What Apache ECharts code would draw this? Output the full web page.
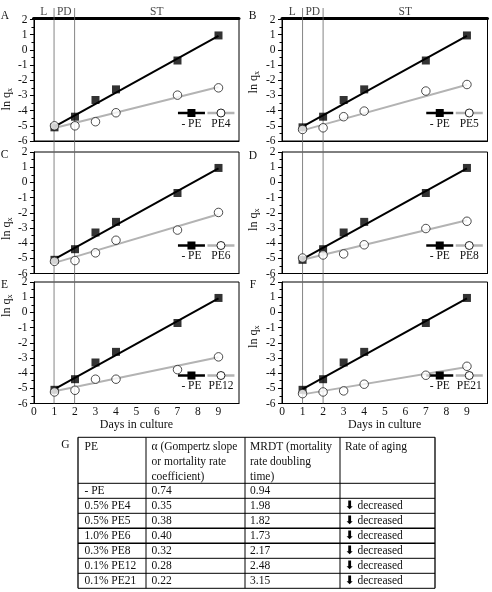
<!DOCTYPE html>
<html><head><meta charset="utf-8">
<script src="https://cdn.jsdelivr.net/npm/echarts@6/dist/echarts.min.js"></script>
<style>html,body{margin:0;padding:0;background:#fff}#c{width:492px;height:592px}</style>
</head><body><div id="c"></div>
<script>
// ---------- data ----------
const days = [1, 2, 3, 4, 7, 9];
const fitDays = [1, 9];
const controlValues = [-5.1, -4.4, -3.3, -2.6, -0.7, 0.95];
const controlFit = [-5.05, 0.93];
const pe4Values = [-5.0, -5.0, -4.73, -4.14, -2.98, -2.5];
const pe4Fit = [-5.15, -2.45];
const pe5Values = [-5.24, -5.13, -4.4, -4.03, -2.71, -2.28];
const pe5Fit = [-5.3, -2.3];
const pe6Values = [-5.2, -5.15, -4.64, -3.81, -3.14, -1.98];
const pe6Fit = [-5.3, -2.1];
const pe8Values = [-4.98, -4.78, -4.71, -4.11, -3.04, -2.56];
const pe8Fit = [-5.1, -2.5];
const pe12Values = [-5.24, -5.13, -4.4, -4.4, -3.77, -2.93];
const pe12Fit = [-5.2, -2.95];
const pe21Values = [-5.35, -5.24, -5.17, -4.73, -4.14, -3.55];
const pe21Fit = [-5.4, -3.6];

const panelLetters = ['A', 'B', 'C', 'D', 'E', 'F'];
const panelPE = ['PE4', 'PE5', 'PE6', 'PE8', 'PE12', 'PE21'];
const panelValues = [pe4Values, pe5Values, pe6Values, pe8Values, pe12Values, pe21Values];
const panelFits = [pe4Fit, pe5Fit, pe6Fit, pe8Fit, pe12Fit, pe21Fit];

const xTickLabels = ['0', '1', '2', '3', '4', '5', '6', '7', '8', '9'];
const yTickLabels = ['-6', '-5', '-4', '-3', '-2', '-1', '0', '1', '2'];
const phaseNames = ['L', 'PD', 'ST'];
const phaseStart = [0, 1, 2];
const phaseEnd = [1, 2, 10];
const phaseBounds = [1, 2];

const tableHeader = [
  ['PE'],
  ['\u03b1 (Gompertz slope', 'or mortality rate', 'coefficient)'],
  ['MRDT (mortality', 'rate doubling', 'time)'],
  ['Rate of aging']
];
const tablePE = ['- PE', '0.5% PE4', '0.5% PE5', '1.0% PE6', '0.3% PE8', '0.1% PE12', '0.1% PE21'];
const tableAlpha = ['0.74', '0.35', '0.38', '0.40', '0.32', '0.28', '0.22'];
const tableMRDT = ['0.94', '1.98', '1.82', '1.73', '2.17', '2.48', '3.15'];
const tableAging = ['', 'decreased', 'decreased', 'decreased', 'decreased', 'decreased', 'decreased'];

// ---------- layout ----------
const FF = '"Liberation Serif", "DejaVu Serif", serif';
const TXT = '#111';
const colLeft = [33.5, 282];
const colWidth = [205.5, 205.5];
const rowTop = [19.5, 152, 282];
const rowHeight = 121.5;
const nameShift = [19, 2, 16, 7, -37, -6];
const nameGaps = [18, 21];
const legendLeft = [176.7, 425];
const letterPos = [[5, 16], [252.5, 16], [4.5, 155], [253, 155.5], [4.5, 285], [253, 285]];
const overlayTop = 8;
const overlayBottom = rowTop[2] + rowHeight;

const tableCols = [78, 146, 245, 340, 435];
const tableTop = 437.3;
const headerBottom = 483.3;
const rowH = 15;

const grid = [], xAxis = [], yAxis = [], series = [], legend = [];

for (let i = 0; i < 6; i++) {
  const col = i % 2, row = Math.floor(i / 2);
  grid.push({left: colLeft[col], top: rowTop[row], width: colWidth[col], height: rowHeight,
    show: true, borderColor: '#000', borderWidth: 1, backgroundColor: 'transparent', containLabel: false});
  xAxis.push({gridIndex: i, type: 'value', min: 0, max: 10, interval: 1,
    axisLine: {onZero: false, lineStyle: {color: '#000', width: 1}},
    axisTick: {show: false}, splitLine: {show: false},
    axisLabel: {show: row === 2, margin: 2, fontFamily: FF, fontSize: 11.5, color: TXT,
      formatter: v => (xTickLabels[v] !== undefined ? xTickLabels[v] : '')},
    name: row === 2 ? 'Days in culture' : '', nameLocation: 'middle', nameGap: 12.5,
    nameTextStyle: {fontFamily: FF, fontSize: 12, color: TXT}});
  const s = nameShift[i];
  yAxis.push({gridIndex: i, type: 'value', min: -6, max: 2, interval: 1,
    axisLine: {onZero: false, lineStyle: {color: '#000', width: 1}},
    axisTick: {show: true, length: 4, lineStyle: {color: '#000'}},
    minorTick: {show: true, splitNumber: 2, length: 2.5, lineStyle: {color: '#000'}},
    splitLine: {show: false}, minorSplitLine: {show: false},
    axisLabel: {margin: 6.5, fontFamily: FF, fontSize: 11.5, color: TXT,
      formatter: v => yTickLabels[Math.round(v) + 6]},
    name: '{a|ln q}{b|x}', nameLocation: 'middle', nameGap: nameGaps[col],
    nameTextStyle: {padding: s > 0 ? [0, 2 * s, 0, 0] : [0, 0, 0, -2 * s],
      rich: {a: {fontFamily: FF, fontSize: 12, lineHeight: 14, color: TXT},
             b: {fontFamily: FF, fontSize: 8, lineHeight: 6, verticalAlign: 'bottom', color: TXT}}}});

  // fit lines (carry the legend symbol)
  series.push({type: 'line', name: '- PE', xAxisIndex: i, yAxisIndex: i, silent: true,
    data: fitDays.map((d, k) => [d, controlFit[k]]), symbol: 'rect', showSymbol: false,
    lineStyle: {color: '#000', width: 2}, itemStyle: {color: '#000'}, z: 3});
  series.push({type: 'line', name: panelPE[i], xAxisIndex: i, yAxisIndex: i, silent: true,
    data: fitDays.map((d, k) => [d, panelFits[i][k]]), symbol: 'circle', showSymbol: false,
    lineStyle: {color: '#b3b3b3', width: 2}, itemStyle: {color: '#fff', borderColor: '#222', borderWidth: 1}, z: 2});
  // points
  series.push({type: 'scatter', name: '- PE points', xAxisIndex: i, yAxisIndex: i, silent: true,
    data: days.map((d, k) => [d, controlValues[k]]), symbol: 'rect', symbolSize: 8,
    itemStyle: {color: '#000'}, z: 4});
  series.push({type: 'scatter', name: panelPE[i] + ' points', xAxisIndex: i, yAxisIndex: i, silent: true,
    data: days.map((d, k) => [d, panelValues[i][k]]), symbol: 'circle', symbolSize: 8.5,
    itemStyle: {color: '#fff', borderColor: '#222', borderWidth: 1}, z: 5});

  legend.push({data: ['- PE', panelPE[i]], left: legendLeft[col], top: rowTop[row] + rowHeight - 15.5 - 17,
    orient: 'horizontal', itemWidth: 27, itemHeight: 10, itemGap: 0, padding: 0, selectedMode: false,
    lineStyle: {width: 2.5},
    itemStyle: {borderWidth: 1},
    formatter: n => '{c|' + n + '}',
    textStyle: {fontFamily: FF, fontSize: 11.5, color: TXT, padding: [21, 0, 0, -32],
      rich: {c: {width: 27, align: 'center', fontFamily: FF, fontSize: 11.5, color: TXT}}}});
}

// overlay grids (phase boundary lines) : 6,7 ; header grids : 8,9
for (let col = 0; col < 2; col++) {
  grid.push({left: colLeft[col], top: overlayTop, width: colWidth[col], height: overlayBottom - overlayTop, show: false});
}
for (let col = 0; col < 2; col++) {
  grid.push({left: colLeft[col], top: 6.5, width: colWidth[col], height: 11.5, show: false});
}
for (let col = 0; col < 2; col++) {
  xAxis.push({gridIndex: 6 + col, type: 'value', min: 0, max: 10, show: false});
  yAxis.push({gridIndex: 6 + col, type: 'value', min: 0, max: 1, show: false});
}
for (let col = 0; col < 2; col++) {
  xAxis.push({gridIndex: 8 + col, type: 'value', min: 0, max: 10,
    axisLine: {show: true, onZero: false, lineStyle: {color: '#000', width: 3}},
    axisTick: {show: false}, axisLabel: {show: false}, splitLine: {show: false}});
  yAxis.push({gridIndex: 8 + col, type: 'value', min: 0, max: 1, show: false});
}
for (let col = 0; col < 2; col++) {
  phaseBounds.forEach(b => {
    series.push({type: 'line', xAxisIndex: 6 + col, yAxisIndex: 6 + col, silent: true,
      data: [[b, 0], [b, 1]], symbol: 'none', lineStyle: {color: '#666', width: 0.8}, z: 1});
  });
  series.push({type: 'scatter', xAxisIndex: 8 + col, yAxisIndex: 8 + col, silent: true,
    data: phaseNames.map((n, k) => [(phaseStart[k] + phaseEnd[k]) / 2, 0.5, n]), symbolSize: 0,
    label: {show: true, position: 'inside', formatter: p => p.data[2],
      fontFamily: FF, fontSize: 11.5, color: TXT}});
}

// ---------- graphic: panel letters + table ----------
const graphic = [];
const FONT = '11.5px ' + FF;
function txt(x, y, text, align, extra) {
  return Object.assign({type: 'text', silent: true, z: 10,
    style: {x: x, y: y, text: text, font: FONT, fill: TXT, align: align || 'left', verticalAlign: 'middle',
      textAlign: align || 'left', textVerticalAlign: 'middle'}}, extra || {});
}
panelLetters.forEach((L, i) => graphic.push(txt(letterPos[i][0], letterPos[i][1], L, 'center')));
graphic.push(txt(65.5, 444.5, 'G', 'center'));

const rowsY = [tableTop, headerBottom];
for (let r = 1; r <= tablePE.length; r++) rowsY.push(headerBottom + r * rowH);
const tableBottom = rowsY[rowsY.length - 1];
rowsY.forEach((y, k) => {
  const w = (k === 4 || k === 5) ? 1.6 : 1;
  graphic.push({type: 'line', silent: true, shape: {x1: tableCols[0], y1: y, x2: tableCols[4], y2: y},
    style: {stroke: '#000', lineWidth: w}});
});
tableCols.forEach((x, k) => {
  const w = (k === 0 || k === 4) ? 1.3 : 1;
  graphic.push({type: 'line', silent: true, shape: {x1: x, y1: tableTop, x2: x, y2: tableBottom},
    style: {stroke: '#000', lineWidth: w}});
});
const padX = [6.5, 5.5, 5, 5];
tableHeader.forEach((lines, c) => {
  lines.forEach((t, k) => graphic.push(txt(tableCols[c] + padX[c], tableTop + 9.4 + k * rowH, t)));
});
const cols = [tablePE, tableAlpha, tableMRDT];
for (let r = 0; r < tablePE.length; r++) {
  const y = headerBottom + rowH / 2 + r * rowH;
  cols.forEach((arr, c) => graphic.push(txt(tableCols[c] + padX[c], y, arr[r])));
  if (tableAging[r]) {
    graphic.push({type: 'text', silent: true, z: 10,
      style: {x: tableCols[3] + padX[3], y: y, text: '{a|\u2b07} ' + tableAging[r], font: FONT, fill: TXT,
        align: 'left', verticalAlign: 'middle', textAlign: 'left', textVerticalAlign: 'middle',
        rich: {a: {fontFamily: '"DejaVu Sans"', fontSize: 11.5, fontWeight: 'bold', fill: '#000', color: '#000'}}}});
  }
}

const chart = echarts.init(document.getElementById('c'));
chart.setOption({
  backgroundColor: '#fff',
  animation: false,
  grid, xAxis, yAxis, series, legend, graphic
});
</script></body></html>
